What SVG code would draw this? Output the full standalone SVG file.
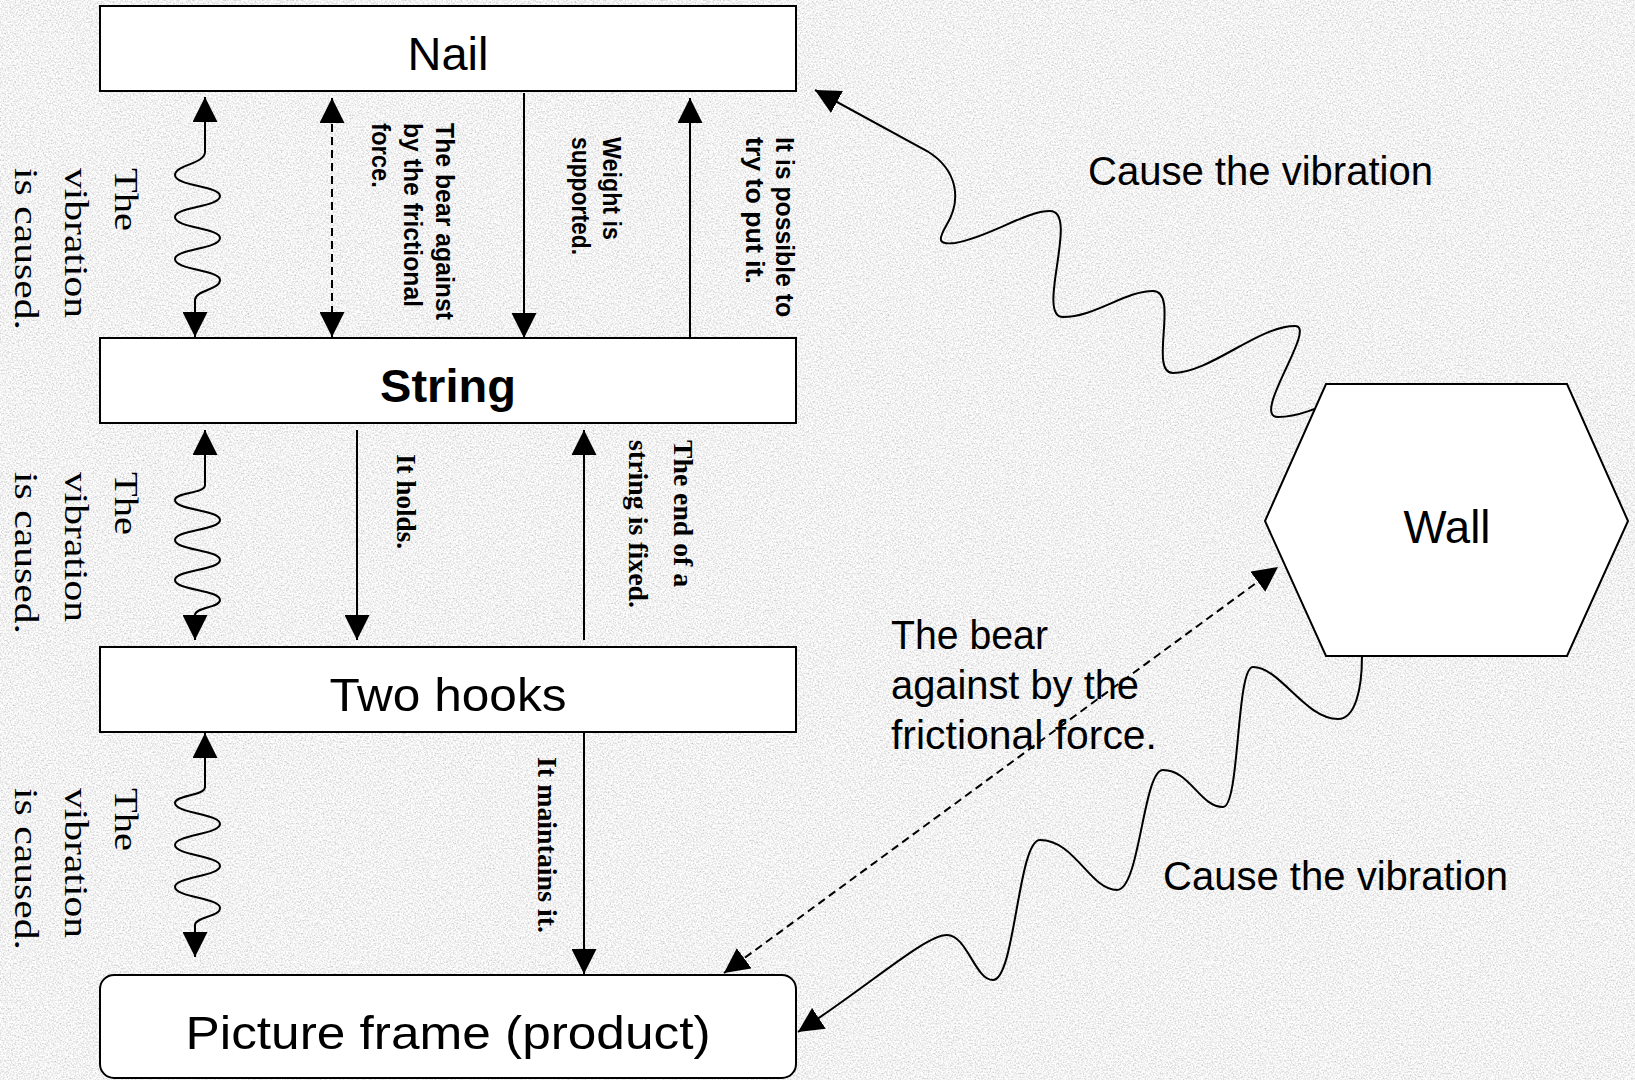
<svg xmlns="http://www.w3.org/2000/svg" width="1635" height="1080" viewBox="0 0 1635 1080">
<defs>
<filter id="noise" x="0" y="0" width="100%" height="100%">
<feTurbulence type="fractalNoise" baseFrequency="0.6" numOctaves="3" seed="7"/>
<feColorMatrix type="matrix" values="0.8 0 0 0 0.49  0.8 0 0 0 0.49  0.8 0 0 0 0.49  0 0 0 0 1"/>
</filter>
<marker id="ah" viewBox="0 0 25 25" refX="25" refY="12.5" markerWidth="25" markerHeight="25" markerUnits="userSpaceOnUse" orient="auto-start-reverse">
<path d="M0,0 L25,12.5 L0,25 z" fill="#000"/>
</marker>
<style>
.box{fill:#fff;stroke:#000;stroke-width:2}
.lbl{font-family:"Liberation Sans",Arial,sans-serif;font-size:47px;text-anchor:middle;fill:#000}
.conn{fill:none;stroke:#000;stroke-width:2}
.dash{stroke-dasharray:8 5}
.rs{font-family:"Liberation Serif","Times New Roman",serif;font-size:33px;fill:#000}
.rb{font-family:"Liberation Serif","Times New Roman",serif;font-weight:bold;font-size:28px;fill:#000}
.ra{font-family:"Liberation Sans",Arial,sans-serif;font-weight:bold;font-size:25px;fill:#000}
.side{font-family:"Liberation Sans",Arial,sans-serif;font-size:40px;fill:#000}
</style>
</defs>
<rect x="0" y="0" width="1635" height="1080" fill="#e3e3e3"/>
<rect x="0" y="0" width="1635" height="1080" filter="url(#noise)"/>

<g id="node-nail">
<rect class="box" x="100" y="6" width="696" height="85"/>
<text class="lbl" x="448" y="70">Nail</text>
</g>
<g id="node-string">
<rect class="box" x="100" y="338" width="696" height="85"/>
<text class="lbl" x="448" y="402" font-weight="bold">String</text>
</g>
<g id="node-hooks">
<rect class="box" x="100" y="647" width="696" height="85"/>
<text class="lbl" x="448" y="711" textLength="237" lengthAdjust="spacingAndGlyphs">Two hooks</text>
</g>
<g id="node-frame">
<rect class="box" x="100" y="975" width="696" height="103" rx="14" ry="14"/>
<text class="lbl" x="448" y="1049" textLength="525" lengthAdjust="spacingAndGlyphs">Picture frame (product)</text>
</g>
<g id="node-wall">
<polygon class="box" points="1326,384 1567,384 1628,521 1567,656 1326,656 1265,521"/>
<text class="lbl" x="1447" y="543" textLength="87" lengthAdjust="spacingAndGlyphs">Wall</text>
</g>

<g id="connectors">
<path class="conn" marker-start="url(#ah)" marker-end="url(#ah)" d="M205,97 V152 C205,164 175,165 175,175 C175,186 220,186 220,196 C220,207 175,207 175,217 C175,228 220,228 220,238 C220,249 175,249 175,259 C175,270 220,270 220,280 C220,290 195,290 195,300 V337"/>
<path class="conn dash" marker-start="url(#ah)" marker-end="url(#ah)" d="M332,98 V337"/>
<path class="conn" marker-end="url(#ah)" d="M524,93 V338"/>
<path class="conn" marker-end="url(#ah)" d="M690,338 V98"/>
<path class="conn" marker-start="url(#ah)" marker-end="url(#ah)" d="M205,430 V485 C205,494 175,492 175,500 C175,510 220,510 220,520 C220,530 175,530 175,540 C175,550 220,550 220,560 C220,570 175,570 175,580 C175,590 220,590 220,600 C220,608 195,607 195,615 V640"/>
<path class="conn" marker-end="url(#ah)" d="M357,430 V640"/>
<path class="conn" marker-end="url(#ah)" d="M584,640 V430"/>
<path class="conn" marker-start="url(#ah)" marker-end="url(#ah)" d="M205,733 V787 C205,796 175,795 175,803 C175,813 220,814 220,824 C220,834 175,835 175,845 C175,855 220,856 220,866 C220,876 175,877 175,887 C175,897 220,898 220,908 C220,917 195,917 195,925 V957"/>
<path class="conn" marker-end="url(#ah)" d="M584,732 V974"/>
<path class="conn" marker-start="url(#ah)" d="M815,90 L927,151 C958,170 962,200 946,226 C938,240 938,245 955,243 C990,237 1025,211 1050,211 C1080,211 1035,317 1063,317 C1095,317 1125,291 1153,291 C1180,291 1148,373 1173,373 C1210,373 1258,326 1295,326 C1318,326 1250,417 1278,417 C1295,417 1305,412 1315,409"/>
<path class="conn" marker-start="url(#ah)" d="M798,1032 C870,985 925,935 947,935 C967,935 975,980 993,980 C1015,980 1018,840 1040,840 C1075,840 1090,890 1117,890 C1140,890 1143,770 1163,770 C1190,770 1200,807 1223,807 C1240,807 1236,667 1253,667 C1280,667 1305,719 1338,719 C1355,719 1362,690 1362,656"/>
<path class="conn dash" marker-start="url(#ah)" marker-end="url(#ah)" d="M724,973 L1278,567"/>
</g>

<g id="labels">
<text class="rs" transform="translate(115,168) rotate(90)" textLength="63" lengthAdjust="spacingAndGlyphs">The</text>
<text class="rs" transform="translate(65,168) rotate(90)" textLength="150" lengthAdjust="spacingAndGlyphs">vibration</text>
<text class="rs" transform="translate(15,168) rotate(90)" textLength="162" lengthAdjust="spacingAndGlyphs">is caused.</text>

<text class="rs" transform="translate(115,472) rotate(90)" textLength="63" lengthAdjust="spacingAndGlyphs">The</text>
<text class="rs" transform="translate(65,472) rotate(90)" textLength="150" lengthAdjust="spacingAndGlyphs">vibration</text>
<text class="rs" transform="translate(15,472) rotate(90)" textLength="162" lengthAdjust="spacingAndGlyphs">is caused.</text>

<text class="rs" transform="translate(115,788) rotate(90)" textLength="63" lengthAdjust="spacingAndGlyphs">The</text>
<text class="rs" transform="translate(65,788) rotate(90)" textLength="150" lengthAdjust="spacingAndGlyphs">vibration</text>
<text class="rs" transform="translate(15,788) rotate(90)" textLength="162" lengthAdjust="spacingAndGlyphs">is caused.</text>

<text class="ra" transform="translate(436,123) rotate(90)" textLength="197" lengthAdjust="spacingAndGlyphs">The bear against</text>
<text class="ra" transform="translate(404,123) rotate(90)" textLength="184" lengthAdjust="spacingAndGlyphs">by the frictional</text>
<text class="ra" transform="translate(372,123) rotate(90)" textLength="65" lengthAdjust="spacingAndGlyphs">force.</text>

<text class="ra" transform="translate(603,137) rotate(90)" textLength="103" lengthAdjust="spacingAndGlyphs">Weight is</text>
<text class="ra" transform="translate(572,137) rotate(90)" textLength="118" lengthAdjust="spacingAndGlyphs">supported.</text>

<text class="ra" transform="translate(776,137) rotate(90)" textLength="180" lengthAdjust="spacingAndGlyphs">It is possible to</text>
<text class="ra" transform="translate(746,137) rotate(90)" textLength="147" lengthAdjust="spacingAndGlyphs">try to put it.</text>

<text class="rb" transform="translate(397,454) rotate(90)" textLength="95" lengthAdjust="spacingAndGlyphs">It holds.</text>
<text class="rb" transform="translate(674,440) rotate(90)" textLength="147" lengthAdjust="spacingAndGlyphs">The end of a</text>
<text class="rb" transform="translate(629,440) rotate(90)" textLength="168" lengthAdjust="spacingAndGlyphs">string is fixed.</text>
<text class="rb" transform="translate(538,757) rotate(90)" textLength="176" lengthAdjust="spacingAndGlyphs">It maintains it.</text>

<text class="side" x="1088" y="185" textLength="345" lengthAdjust="spacingAndGlyphs">Cause the vibration</text>
<text class="side" x="1163" y="890" textLength="345" lengthAdjust="spacingAndGlyphs">Cause the vibration</text>
<text class="side" x="891" y="649" textLength="157" lengthAdjust="spacingAndGlyphs">The bear</text>
<text class="side" x="891" y="699" textLength="248" lengthAdjust="spacingAndGlyphs">against by the</text>
<text class="side" x="891" y="749" textLength="266" lengthAdjust="spacingAndGlyphs">frictional force.</text>
</g>
</svg>
